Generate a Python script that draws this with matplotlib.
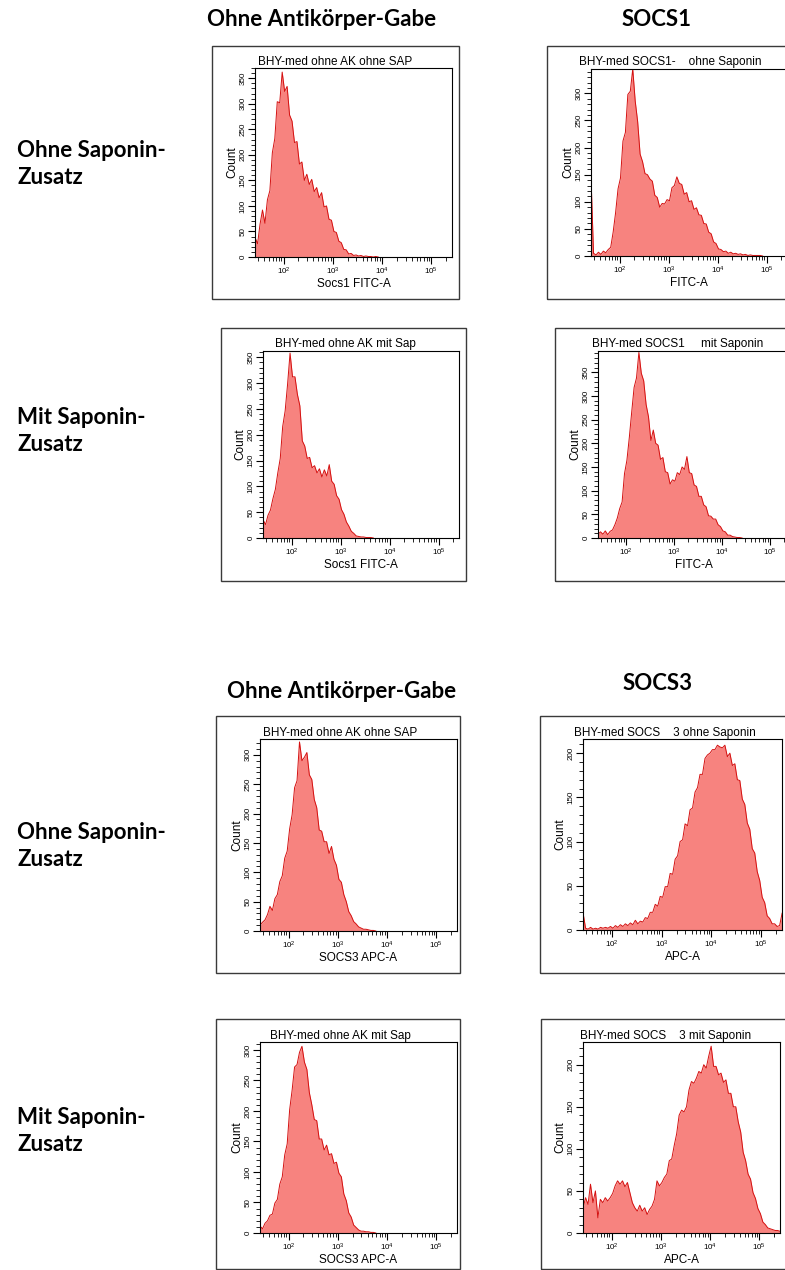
import numpy as np
import matplotlib
matplotlib.use("Agg")
import matplotlib.pyplot as plt
from matplotlib.patches import Rectangle
from matplotlib.ticker import LogLocator, MultipleLocator, NullFormatter

W, H = 785, 1270

# channel grid (log10 of fluorescence intensity), shared by all histograms
log_start = 1.42
log_step = 0.05

# event counts per channel
socs1_noab_nosap = [38, 26, 64, 92, 66, 112, 130, 204, 232, 304, 302, 362, 324, 334, 278,
                    266, 224, 226, 182, 186, 150, 162, 142, 152, 128, 136, 116, 126, 98, 100,
                    74, 72, 50, 48, 31, 28, 15, 14, 6, 7, 3, 4, 2, 3, 1, 2, 1, 1, 0, 1, 0]
socs1_ab_nosap = [140, 5, 2, 7, 3, 9, 6, 12, 16, 44, 80, 124, 144, 212, 228,
                  298, 304, 345, 286, 248, 188, 174, 152, 150, 142, 138, 112, 108, 90, 97,
                  96, 104, 102, 126, 130, 146, 134, 132, 114, 117, 100, 102, 86, 89, 76,
                  75, 60, 59, 44, 41, 26, 23, 13, 12, 8, 9, 5, 7, 4, 5,
                  3, 4, 2, 3, 1, 2, 1, 1, 1, 1, 0]
socs1_noab_sap = [35, 26, 44, 54, 76, 94, 126, 154, 216, 246, 298, 358, 312, 312, 278,
                  256, 188, 178, 154, 156, 136, 140, 126, 134, 118, 132, 120, 142, 110, 104,
                  82, 75, 55, 46, 31, 23, 13, 9, 4, 3, 2, 2, 1, 1, 1, 0]
socs1_ab_sap = [8, 13, 8, 15, 7, 14, 17, 28, 42, 62, 76, 136, 164, 212, 266,
                318, 338, 392, 348, 332, 282, 256, 206, 228, 200, 196, 166, 170, 140, 138,
                114, 123, 120, 138, 134, 150, 145, 172, 138, 136, 112, 109, 88, 88, 70,
                66, 47, 46, 40, 40, 28, 24, 15, 13, 6, 6, 3, 2, 1, 1, 0]

socs3_noab_nosap = [10, 15, 19, 28, 42, 35, 55, 62, 84, 94, 124, 136, 174, 198, 244,
                    256, 322, 290, 296, 304, 266, 258, 224, 210, 172, 170, 152, 152, 132, 144,
                    122, 112, 88, 83, 62, 50, 33, 26, 16, 12, 7, 5, 3, 3, 2, 1, 1, 0]
socs3_ab_nosap = [19, 2, 1, 3, 1, 2, 1, 3, 2, 3, 2, 4, 2, 5, 3,
                  6, 4, 7, 5, 8, 6, 11, 7, 10, 9, 14, 13, 20, 20, 29,
                  27, 38, 37, 49, 49, 64, 63, 80, 84, 100, 102, 120, 118, 136, 138,
                  156, 161, 176, 176, 194, 198, 200, 204, 204, 209, 207, 206, 209, 196, 200,
                  186, 188, 170, 169, 148, 142, 121, 114, 92, 87, 66, 56, 37, 31, 16,
                  13, 7, 7, 4, 5, 19]
socs3_noab_sap = [11, 7, 16, 20, 29, 31, 49, 55, 80, 92, 128, 146, 202, 234, 272,
                  276, 296, 306, 280, 268, 230, 210, 186, 184, 154, 154, 136, 144, 128, 130,
                  114, 116, 98, 92, 64, 53, 33, 26, 13, 9, 5, 3, 3, 2, 2, 1, 1, 0]
socs3_ab_sap = [30, 42, 34, 58, 36, 50, 18, 40, 36, 42, 38, 42, 47, 56, 62,
                58, 62, 55, 60, 48, 36, 30, 26, 33, 26, 30, 22, 28, 32, 40,
                62, 56, 60, 66, 70, 86, 88, 104, 118, 140, 146, 144, 150, 170, 180,
                178, 184, 192, 190, 200, 196, 210, 222, 198, 198, 188, 190, 179, 182, 166,
                166, 150, 150, 132, 120, 96, 86, 70, 64, 48, 41, 29, 23, 13, 10,
                6, 5, 4, 3, 3, 2]

col_titles = ["Ohne Antikörper-Gabe", "SOCS1", "Ohne Antikörper-Gabe", "SOCS3"]
row_titles = ["Ohne Saponin-\nZusatz", "Mit Saponin-\nZusatz",
              "Ohne Saponin-\nZusatz", "Mit Saponin-\nZusatz"]

# counts, title, x label, y max, axes box px (l, t, r, b), frame box px, title centre px (x, y)
panels = [
    (socs1_noab_nosap, "BHY-med ohne AK ohne SAP", "Socs1 FITC-A", 370,
     (255, 68, 452, 257), (212, 46, 459, 299), (335, 62)),
    (socs1_ab_nosap, "BHY-med SOCS1-    ohne Saponin", "FITC-A", 345,
     (591, 69, 787, 256), (547, 46, 800, 299), (670, 62)),
    (socs1_noab_sap, "BHY-med ohne AK mit Sap", "Socs1 FITC-A", 362,
     (263, 351, 459, 538), (221, 328, 466, 581), (345, 344)),
    (socs1_ab_sap, "BHY-med SOCS1     mit Saponin", "FITC-A", 395,
     (598, 351, 790, 538), (555, 328, 800, 581), (678, 344)),
    (socs3_noab_nosap, "BHY-med ohne AK ohne SAP", "SOCS3 APC-A", 327,
     (260, 739, 457, 931), (216, 716, 460, 973), (340, 733)),
    (socs3_ab_nosap, "BHY-med SOCS    3 ohne Saponin", "APC-A", 216,
     (583, 739, 782, 930), (540, 716, 800, 973), (665, 733)),
    (socs3_noab_sap, "BHY-med ohne AK mit Sap", "SOCS3 APC-A", 313,
     (260, 1042, 457, 1233), (216, 1019, 460, 1269), (340, 1036)),
    (socs3_ab_sap, "BHY-med SOCS    3 mit Saponin", "APC-A", 227,
     (583, 1042, 780, 1233), (541, 1019, 800, 1269), (666, 1036)),
]

fill_c = "#f7837f"
line_c = "#d41010"
small_font = "Liberation Sans"
head_font = "Lato"

fig = plt.figure(figsize=(W / 100, H / 100), dpi=100)
fig.patch.set_facecolor("white")

for counts, title, xlab, ymax, box, frame, tpos in panels:
    fl, ft, fr, fb = frame
    fig.add_artist(Rectangle((fl / W, 1 - fb / H), (fr - fl) / W, (fb - ft) / H,
                             transform=fig.transFigure, fill=False, ec="#3a3a3a", lw=1.0))
    l, t, r, b = box
    ax = fig.add_axes([l / W, 1 - b / H, (r - l) / W, (b - t) / H])
    x = 10 ** (log_start + log_step * np.arange(len(counts)))
    ax.fill_between(x, counts, color=fill_c, lw=0)
    ax.plot(x, counts, color=line_c, lw=0.7)
    ax.set_xscale("log")
    ax.set_xlim(10 ** 1.418, 10 ** 5.418)
    ax.set_ylim(0, ymax)
    ax.xaxis.set_major_locator(LogLocator(base=10, numticks=10))
    ax.xaxis.set_minor_locator(LogLocator(base=10, subs=np.arange(2, 10), numticks=20))
    ax.xaxis.set_minor_formatter(NullFormatter())
    ax.yaxis.set_major_locator(MultipleLocator(50))
    ax.yaxis.set_minor_locator(MultipleLocator(10))
    ax.tick_params(which="major", direction="out", length=5, width=0.8, pad=1,
                   labelsize=5.8)
    ax.tick_params(which="minor", direction="out", length=3, width=0.6)
    for lab in ax.get_xticklabels() + ax.get_yticklabels():
        lab.set_fontfamily(small_font)
    for lab in ax.get_yticklabels():
        lab.set_rotation(90)
        lab.set_va("center")
    for sp in ax.spines.values():
        sp.set_linewidth(0.8)
    ax.set_xlabel(xlab, fontsize=8.5, family=small_font, labelpad=1)
    ax.set_ylabel("Count", fontsize=8.5, family=small_font, labelpad=1)
    fig.text(tpos[0] / W, 1 - tpos[1] / H, title, ha="center", va="center",
             fontsize=8.5, family=small_font)

# column headings
for txt, (cx, cy) in zip(col_titles, [(322, 20), (657, 20), (342, 692), (658, 683)]):
    fig.text(cx / W, 1 - cy / H, txt, ha="center", va="center",
             fontsize=16, fontweight="bold", family=head_font)

# row headings
for txt, cy in zip(row_titles, [164, 431, 846, 1131]):
    fig.text(17 / W, 1 - cy / H, txt, ha="left", va="center", linespacing=1.4,
             fontsize=16, fontweight="bold", family=head_font)

fig.savefig("out.png", dpi=100)
